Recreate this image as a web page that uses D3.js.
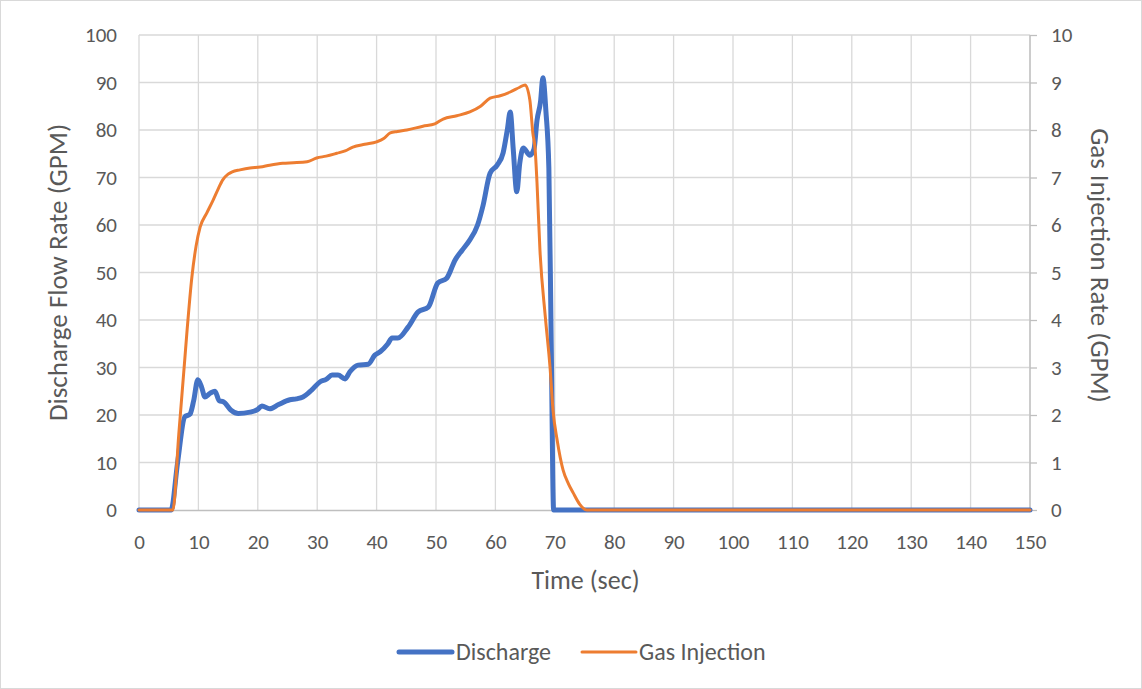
<!DOCTYPE html>
<html>
<head>
<meta charset="utf-8">
<script src="https://cdn.jsdelivr.net/npm/d3@7"></script>
<style>
  html, body { margin: 0; padding: 0; background: #fff; }
  text { font-family: Carlito, Calibri, Lato, "Liberation Sans", sans-serif; fill: #595959; }
</style>
</head>
<body>
<svg id="chart" width="1142" height="689"></svg>
<script>
// ---- Data ----
const dischargeTime = [0,5.4,6.5,7.7,8.6,9.2,9.9,10.5,11.1,12,12.8,13.5,14.2,15.5,16.7,18.7,20,20.7,22,23.5,25.4,26.5,27.6,29.1,30.5,31.5,32.5,33.5,34.7,35.5,36.9,38.6,39.7,40.6,41.9,42.6,43.6,45.3,47,48.7,50.3,51.8,53.2,54.4,55.5,57,57.9,59.1,60.3,61.3,62,62.5,63,63.6,64.1,64.7,65.8,66.5,67,67.6,68,68.5,69.0,69.4,69.8,70.5,150];
const dischargeValues = [0,0,10,19.6,20.2,23,27.4,26,23.8,24.6,25,23,22.8,21,20.3,20.6,21.2,21.9,21.3,22.2,23.2,23.4,23.8,25.3,27,27.5,28.4,28.4,27.6,29.1,30.5,30.7,32.6,33.3,35,36.2,36.2,38.5,41.7,42.7,47.8,48.8,52.6,54.7,56.5,60,64,70.9,72.6,75.2,80,83.8,76,67,73,76.2,74.7,76,82,86,91,84,72,35,0,0,0];

const gasTime = [0,5.7,6.7,7.7,8.1,8.9,9.6,10.3,11.4,12.5,13.3,14.1,15,15.7,17,18.7,20.4,22,24.2,26,28.3,29.9,31.5,33.3,34.7,36,38,40,41.2,42.3,43.5,45.1,47.8,49.8,51.2,53.5,55.7,57.5,59.1,60.8,62.5,64.1,65,65.8,66.3,66.7,67,67.5,68.4,69.2,69.7,70.4,71.4,72.3,73.1,74.2,75.4,150];
const gasValues = [0,0,1.6,3.16,3.79,4.9,5.55,5.96,6.25,6.53,6.75,6.95,7.07,7.12,7.16,7.2,7.22,7.26,7.3,7.31,7.33,7.41,7.45,7.51,7.56,7.64,7.7,7.75,7.82,7.94,7.97,8.0,8.08,8.13,8.23,8.3,8.38,8.5,8.67,8.72,8.8,8.9,8.95,8.63,7.94,7.58,6.9,5.47,4.07,3.0,2.1,1.47,0.84,0.55,0.36,0.12,0,0];

const xTicks = [0,10,20,30,40,50,60,70,80,90,100,110,120,130,140,150];
const yLeftTicks = [0,10,20,30,40,50,60,70,80,90,100];
const yRightTicks = [0,1,2,3,4,5,6,7,8,9,10];
const seriesNames = ["Discharge", "Gas Injection"];

// ---- Layout ----
const W = 1142, H = 689;
const plot = { left: 139, right: 1030, top: 35, bottom: 510 };
const svg = d3.select("#chart");

// outer border
svg.append("rect").attr("x", 0.5).attr("y", 0.5).attr("width", W - 1).attr("height", H - 1)
  .attr("fill", "#fff").attr("stroke", "#d9d9d9");

const x = d3.scaleLinear().domain([0, 150]).range([plot.left, plot.right]);
const yL = d3.scaleLinear().domain([0, 100]).range([plot.bottom, plot.top]);
const yR = d3.scaleLinear().domain([0, 10]).range([plot.bottom, plot.top]);

// gridlines
const grid = svg.append("g");
grid.selectAll("line.h").data(yLeftTicks.slice(1)).enter().append("line")
  .attr("x1", plot.left).attr("x2", plot.right)
  .attr("y1", d => yL(d)).attr("y2", d => yL(d))
  .attr("stroke", "#d9d9d9").attr("stroke-width", 1.3);
grid.selectAll("line.v").data(xTicks).enter().append("line")
  .attr("y1", plot.top).attr("y2", plot.bottom)
  .attr("x1", d => x(d)).attr("x2", d => x(d))
  .attr("stroke", "#d9d9d9").attr("stroke-width", 1.3);

// bottom axis
const xAxis = svg.append("g").attr("transform", `translate(0,${plot.bottom})`)
  .call(d3.axisBottom(x).tickValues(xTicks).tickSize(0).tickPadding(24).tickFormat(d3.format("d")));
xAxis.select(".domain").attr("stroke", "#bfbfbf").attr("stroke-width", 1.3);
xAxis.selectAll("text").style("font-size", "21px").attr("fill", "#595959");

// left axis
const yAxisL = svg.append("g").attr("transform", `translate(${plot.left},0)`)
  .call(d3.axisLeft(yL).tickValues(yLeftTicks).tickSize(0).tickPadding(22));
yAxisL.select(".domain").remove();
yAxisL.selectAll("text").style("font-size", "21px").attr("fill", "#595959");

// right axis
const yAxisR = svg.append("g").attr("transform", `translate(${plot.right},0)`)
  .call(d3.axisRight(yR).tickValues(yRightTicks).tickSize(7).tickPadding(14));
yAxisR.select(".domain").attr("stroke", "#bfbfbf").attr("stroke-width", 1.3).attr("d", `M0,${plot.bottom}V${plot.top}`);
yAxisR.selectAll("line").attr("stroke", "#bfbfbf").attr("stroke-width", 1.3);
yAxisR.selectAll("text").style("font-size", "21px").attr("fill", "#595959");

// axis titles
svg.append("text").attr("x", (plot.left + plot.right) / 2 + 1).attr("y", 589)
  .attr("text-anchor", "middle").style("font-size", "26px").text("Time (sec)");
svg.append("text").attr("transform", `translate(67,${(plot.top + plot.bottom) / 2}) rotate(-90)`)
  .attr("text-anchor", "middle").style("font-size", "27px").text("Discharge Flow Rate (GPM)");
svg.append("text").attr("transform", `translate(1091,${(plot.top + plot.bottom) / 2 - 7}) rotate(90)`)
  .attr("text-anchor", "middle").style("font-size", "27px").text("Gas Injection Rate (GPM)");

// series
const dData = dischargeTime.map((t, i) => [t, dischargeValues[i]]);
const gData = gasTime.map((t, i) => [t, gasValues[i]]);

const lineL = d3.line().x(d => x(d[0])).y(d => yL(d[1])).curve(d3.curveMonotoneX);
const lineR = d3.line().x(d => x(d[0])).y(d => yR(d[1])).curve(d3.curveMonotoneX);

svg.append("path").datum(dData).attr("d", lineL)
  .attr("fill", "none").attr("stroke", "#4472C4").attr("stroke-width", 5)
  .attr("stroke-linejoin", "round").attr("stroke-linecap", "round");
svg.append("path").datum(gData).attr("d", lineR)
  .attr("fill", "none").attr("stroke", "#ED7D31").attr("stroke-width", 3)
  .attr("stroke-linejoin", "round").attr("stroke-linecap", "round");

// legend
const legend = svg.append("g");
const legendItems = [
  { name: seriesNames[0], color: "#4472C4", width: 5, x1: 399, x2: 452, tx: 456 },
  { name: seriesNames[1], color: "#ED7D31", width: 3, x1: 582, x2: 636, tx: 639 }
];
legendItems.forEach(it => {
  legend.append("line").attr("x1", it.x1).attr("x2", it.x2).attr("y1", 652).attr("y2", 652)
    .attr("stroke", it.color).attr("stroke-width", it.width).attr("stroke-linecap", "round");
  legend.append("text").attr("x", it.tx).attr("y", 660).style("font-size", "24px").text(it.name);
});
</script>
</body>
</html>
